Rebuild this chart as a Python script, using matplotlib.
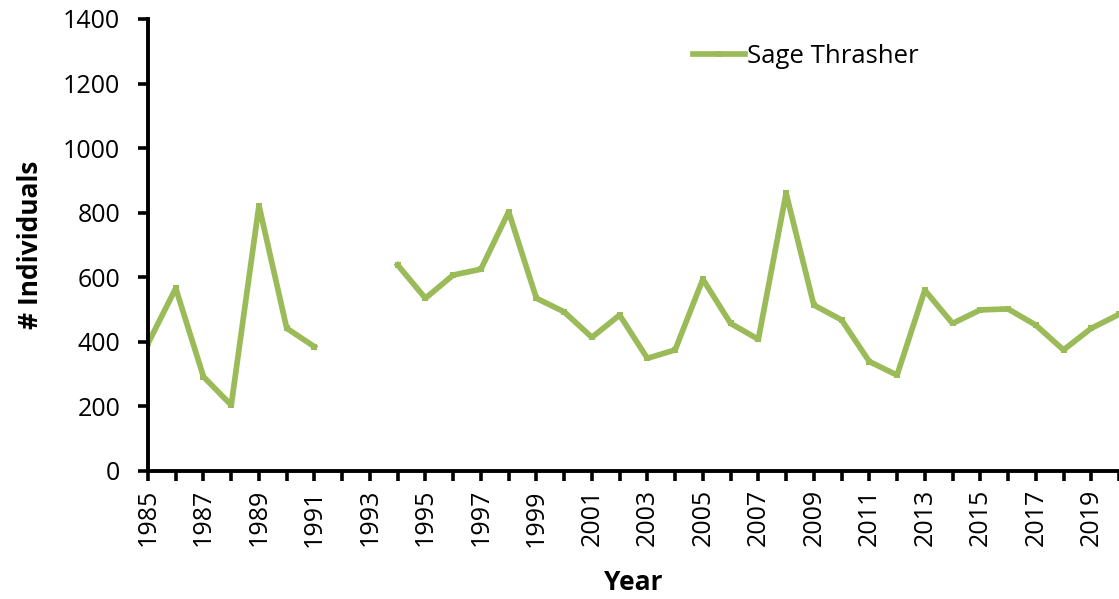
import numpy as np
import matplotlib
matplotlib.use("Agg")
import matplotlib.pyplot as plt

years = list(range(1985, 2021))
counts = [395, 566, 292, 204, 822, 442, 385, np.nan, np.nan,
          638, 535, 607, 625, 803, 535, 493, 414, 483, 349, 375,
          594, 457, 408, 860, 514, 468, 339, 297, 560, 457, 499,
          502, 452, 375, 442, 485]
series_name = "Sage Thrasher"
color = "#9BBB59"

plt.rcParams['font.family'] = ['Open Sans', 'DejaVu Sans']

fig = plt.figure(figsize=(11.19, 5.99), dpi=100)
ax = fig.add_axes([148/1119, 1 - 471/599, 1 - 148/1119, (471 - 19)/599])

ax.plot(years, counts, color=color, lw=4.1, marker='s', ms=5,
        markeredgewidth=0, label=series_name, solid_joinstyle='bevel')

ax.set_xlim(1985, 1985 + (1119 - 147) / 27.9)
ax.set_ylim(0, 1400)
ax.set_yticks(range(0, 1401, 200))
ax.set_xticks(years)
ax.set_xticklabels([str(y) if (y - 1985) % 2 == 0 else "" for y in years],
                   rotation=90, fontsize=18)
ax.tick_params(axis='y', labelsize=18, direction='out', length=7, width=2.6, pad=13)
ax.tick_params(axis='x', direction='out', length=7, width=2.6, pad=6)

for s in ['top', 'right']:
    ax.spines[s].set_visible(False)
for s in ['left', 'bottom']:
    ax.spines[s].set_linewidth(2.8)

ax.set_ylabel("# Individuals", fontsize=19, fontweight='bold', labelpad=14)
ax.set_xlabel("Year", fontsize=19, fontweight='bold', labelpad=16)

ax.legend(loc='upper left', bbox_to_anchor=((670 - 148) / (1119 - 148), 0.995),
          frameon=False, fontsize=18.5, handlelength=2.0, handletextpad=0.1)

fig.savefig("out.png", dpi=100)
